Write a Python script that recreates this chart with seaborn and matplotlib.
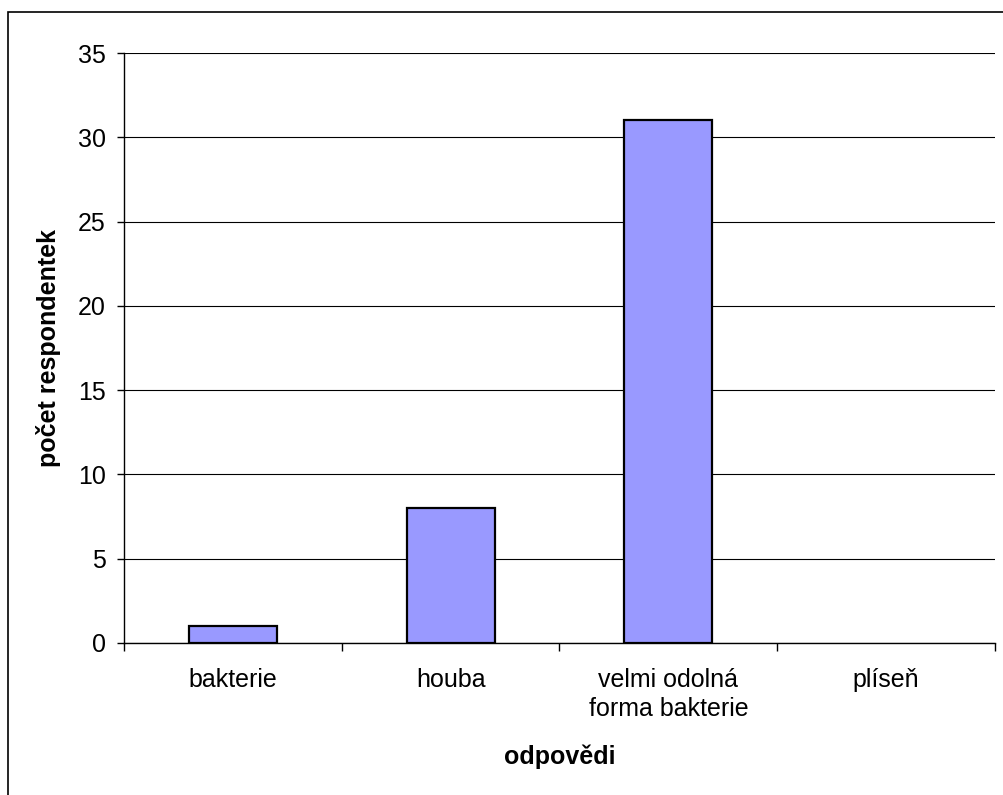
import matplotlib
matplotlib.use("Agg")
import matplotlib.pyplot as plt
import seaborn as sns
import pandas as pd
from matplotlib.patches import Rectangle

categories = ["bakterie", "houba", "velmi odolná\nforma bakterie", "plíseň"]
values = [1, 8, 31, 0]
y_ticks = [0, 5, 10, 15, 20, 25, 30, 35]

sns.set_theme(style="white")
plt.rcParams['font.family'] = ['Liberation Sans', 'DejaVu Sans']
plt.rcParams['text.color'] = 'black'
plt.rcParams['xtick.color'] = 'black'
plt.rcParams['ytick.color'] = 'black'
plt.rcParams['axes.labelcolor'] = 'black'

df = pd.DataFrame({"odpovedi": categories, "pocet": values})

fig = plt.figure(figsize=(10.04, 7.95), dpi=100)
ax = fig.add_axes([124 / 1004, 1 - 643 / 795, (995 - 124) / 1004, (643 - 53) / 795])

sns.barplot(data=df, x="odpovedi", y="pocet", ax=ax, color="#9999FF",
            width=0.405, edgecolor="black", linewidth=1.6, saturation=1)
for p in ax.patches:
    if p.get_height() == 0:
        p.set_linewidth(0)

ax.set_xlim(-0.5, len(categories) - 0.5)
ax.set_ylim(0, 35)
ax.set_yticks(y_ticks)
ax.set_yticklabels([str(t) for t in y_ticks])

ax.set_xticks([i - 0.5 for i in range(len(categories) + 1)])
ax.set_xticklabels([""] * (len(categories) + 1))
ax.set_xticks(list(range(len(categories))), minor=True)
ax.set_xticklabels(categories, minor=True, fontsize=18, linespacing=1.28)
ax.tick_params(axis="x", which="major", direction="out", length=6, width=1, color="black", bottom=True)
ax.tick_params(axis="x", which="minor", length=0, pad=18)
ax.tick_params(axis="y", direction="out", length=5, width=1, color="black", left=True, labelsize=18, pad=8)

ax.grid(axis="y", color="black", linewidth=0.8)
ax.set_axisbelow(True)
for s in ["top", "right"]:
    ax.spines[s].set_visible(False)
for s in ["left", "bottom"]:
    ax.spines[s].set_color("black")
    ax.spines[s].set_linewidth(1)

ax.set_xlabel("odpovědi", fontsize=18, fontweight="bold")
ax.set_ylabel("počet respondentek", fontsize=18, fontweight="bold")
ax.xaxis.set_label_coords(0.5, -0.172)
ax.yaxis.set_label_coords(-0.072, 0.5)

fig.patches.append(Rectangle((8 / 1004, -0.1), 1.2, 1 - 11.5 / 795 + 0.1,
                             transform=fig.transFigure, fill=False,
                             edgecolor="black", linewidth=1.2))

fig.savefig("out.png", dpi=100)
